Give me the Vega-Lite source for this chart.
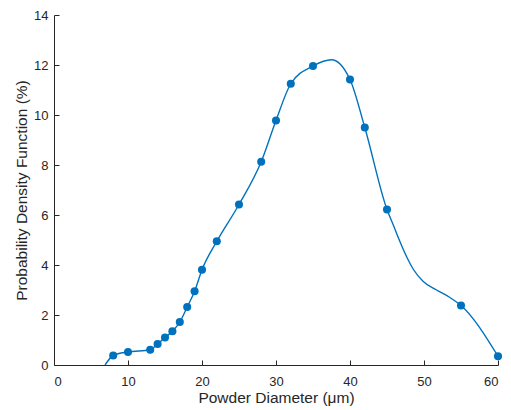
{
  "$schema": "https://vega.github.io/schema/vega-lite/v6.json",
  "width": 444,
  "height": 350,
  "autosize": {"type": "none"},
  "padding": {"left": 54, "top": 15, "right": 13, "bottom": 45},
  "background": "white",
  "config": {
    "view": {"stroke": null},
    "font": "Liberation Sans",
    "axis": {
      "grid": false,
      "domainColor": "#262626",
      "tickColor": "#262626",
      "labelColor": "#262626",
      "titleColor": "#262626",
      "labelFont": "Liberation Sans",
      "titleFont": "Liberation Sans",
      "labelFontSize": 13,
      "titleFontSize": 15.5,
      "titleFontWeight": "normal",
      "tickSize": -5,
      "domainWidth": 1,
      "tickWidth": 1
    }
  },
  "data": {
    "values": [
      {"d": 6.9, "p": 0, "kind": "curve"},
      {"d": 8, "p": 0.38, "kind": "point"},
      {"d": 10, "p": 0.52, "kind": "point"},
      {"d": 13, "p": 0.61, "kind": "point"},
      {"d": 14, "p": 0.84, "kind": "point"},
      {"d": 15, "p": 1.1, "kind": "point"},
      {"d": 16, "p": 1.35, "kind": "point"},
      {"d": 17, "p": 1.72, "kind": "point"},
      {"d": 18, "p": 2.32, "kind": "point"},
      {"d": 19, "p": 2.95, "kind": "point"},
      {"d": 20, "p": 3.81, "kind": "point"},
      {"d": 22, "p": 4.95, "kind": "point"},
      {"d": 25, "p": 6.42, "kind": "point"},
      {"d": 28, "p": 8.13, "kind": "point"},
      {"d": 30, "p": 9.78, "kind": "point"},
      {"d": 32, "p": 11.25, "kind": "point"},
      {"d": 35, "p": 11.96, "kind": "point"},
      {"d": 37.5, "p": 12.21, "kind": "curve"},
      {"d": 40, "p": 11.42, "kind": "point"},
      {"d": 42, "p": 9.5, "kind": "point"},
      {"d": 45, "p": 6.22, "kind": "point"},
      {"d": 45.85, "p": 5.6, "kind": "curve"},
      {"d": 46.8, "p": 4.9, "kind": "curve"},
      {"d": 47.7, "p": 4.3, "kind": "curve"},
      {"d": 48.55, "p": 3.83, "kind": "curve"},
      {"d": 49.9, "p": 3.34, "kind": "curve"},
      {"d": 51.7, "p": 3.0, "kind": "curve"},
      {"d": 53.5, "p": 2.7, "kind": "curve"},
      {"d": 55, "p": 2.38, "kind": "point"},
      {"d": 60, "p": 0.35, "kind": "point"}
    ]
  },
  "encoding": {
    "x": {
      "field": "d",
      "type": "quantitative",
      "scale": {"domain": [0, 60], "nice": false, "zero": false},
      "axis": {"values": [0, 10, 20, 30, 40, 50, 60], "title": "Powder Diameter (μm)", "labelPadding": 15, "titlePadding": 2}
    },
    "y": {
      "field": "p",
      "type": "quantitative",
      "scale": {"domain": [0, 14], "nice": false},
      "axis": {"values": [0, 2, 4, 6, 8, 10, 12, 14], "title": "Probability Density Function (%)", "labelPadding": 11, "titlePadding": 4}
    }
  },
  "layer": [
    {
      "mark": {"type": "line", "interpolate": "monotone", "color": "#0072BD", "strokeWidth": 1.4, "clip": true}
    },
    {
      "transform": [{"filter": "datum.kind === 'point'"}],
      "mark": {"type": "point", "filled": true, "opacity": 1, "color": "#0072BD", "size": 65}
    }
  ]
}
